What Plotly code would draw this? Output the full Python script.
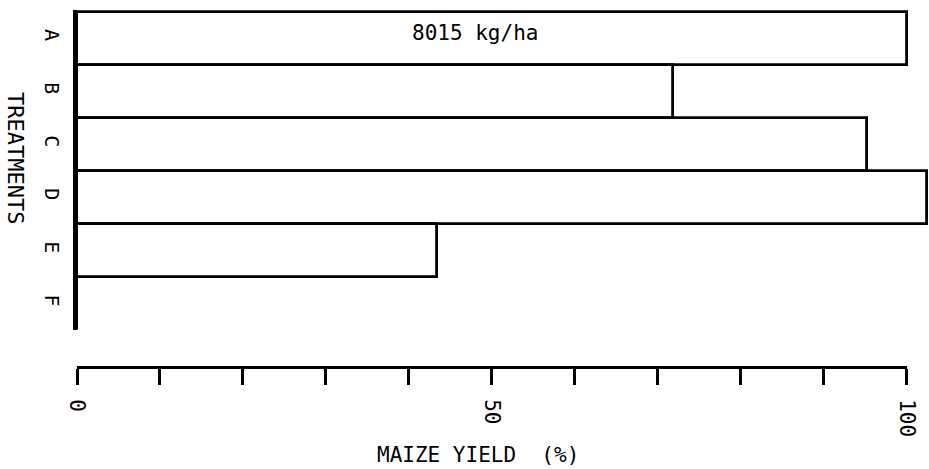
import plotly.graph_objects as go

treatments = ["A", "B", "C", "D", "E", "F"]
yield_pct = [100.0, 71.8, 95.2, 102.4, 43.4, 0.0]
tick_values = [0, 10, 20, 30, 40, 50, 60, 70, 80, 90, 100]
tick_labels = ["0", "", "", "", "", "50", "", "", "", "", "100"]
annot_text = "8015 kg/ha"

FONT = "DejaVu Sans Mono"
XMAX = 102.7

fig = go.Figure()
fig.add_trace(go.Bar(
    y=treatments, x=yield_pct, orientation="h",
    marker=dict(color="white", line=dict(color="black", width=2.8)),
    xaxis="x", yaxis="y", showlegend=False, hoverinfo="x+y",
))
# invisible helper trace to carry the visible percentage axis
fig.add_trace(go.Scatter(
    x=[tick_values[0], tick_values[-1]], y=[treatments[-1], treatments[-1]],
    xaxis="x2", yaxis="y", mode="markers", marker=dict(opacity=0),
    showlegend=False, hoverinfo="skip",
))

W, H = 929, 469
mt, mb, ml, mr = 10, 102, 77, 0
paper_h = H - mt - mb
y_bottom_px = 330
ydom0 = (H - mb - y_bottom_px) / paper_h
pw = W - ml - mr

fig.update_layout(
    width=W, height=H,
    margin=dict(t=mt, b=mb, l=ml, r=mr, autoexpand=False),
    paper_bgcolor="white", plot_bgcolor="rgba(0,0,0,0)",
    bargap=0,
    font=dict(family=FONT, size=21, color="black"),
    xaxis=dict(range=[0, XMAX], domain=[0, 1], visible=False, automargin=False),
    xaxis2=dict(
        range=[0, 100], domain=[0, 100 / XMAX], anchor="free", position=0,
        showline=True, linecolor="black", linewidth=3,
        ticks="outside", ticklen=16, tickwidth=3, tickcolor="black",
        tickvals=tick_values, ticktext=tick_labels, tickangle=90,
        ticklabelstandoff=10, showgrid=False, zeroline=False, automargin=False,
        tickfont=dict(family=FONT, size=21),
    ),
    yaxis=dict(
        domain=[ydom0, 1], range=[5.5, -0.53], type="category",
        showline=True, linecolor="black", linewidth=4, automargin=False,
        ticks="", tickangle=90, showgrid=False, zeroline=False,
        ticklabelstandoff=4,
        tickfont=dict(family=FONT, size=20),
    ),
    annotations=[
        dict(text=annot_text, x=48, y="A", xref="x", yref="y",
             showarrow=False, yshift=5, font=dict(family=FONT, size=21)),
        dict(text="TREATMENTS", textangle=90, x=(16 - ml) / pw,
             y=(H - mb - 158) / paper_h, xref="paper", yref="paper",
             showarrow=False, xanchor="center", yanchor="middle",
             font=dict(family=FONT, size=22)),
        dict(text="MAIZE YIELD  (%)", x=(478 - ml) / pw,
             y=-(455 - (H - mb)) / paper_h, xref="paper", yref="paper",
             showarrow=False, xanchor="center", yanchor="middle",
             font=dict(family=FONT, size=21)),
    ],
)

fig.write_html(
    "out.html",
    config={"displayModeBar": False},
    post_script="document.body.style.margin='0';document.body.style.overflow='hidden';",
)
